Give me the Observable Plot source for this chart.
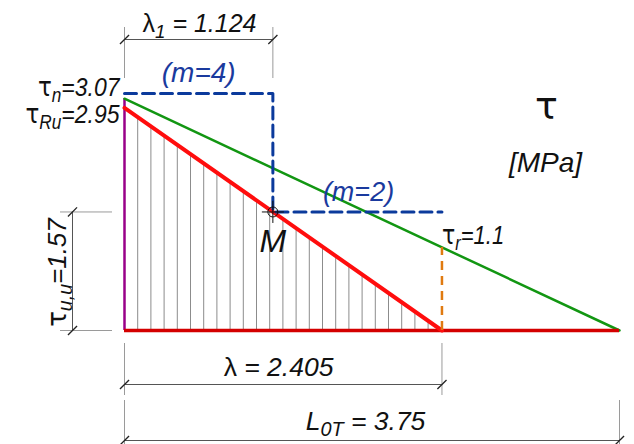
<!DOCTYPE html>
<html>
<head>
<meta charset="utf-8">
<script src="https://cdn.jsdelivr.net/npm/d3@7"></script>
<script src="https://cdn.jsdelivr.net/npm/@observablehq/plot@0.6"></script>
<style>
  html, body { margin: 0; padding: 0; background: #fff; }
  #chart svg { display: block; }
</style>
</head>
<body>
<div id="chart"></div>
<script>
// ---- values ----
const lambda1 = 1.124;   // λ1
const lambda = 2.405;    // λ
const L0T = 3.75;        // L0T
const tauN = 3.07;       // τn
const tauRu = 2.95;      // τRu
const tauUU = 1.57;      // τu,u
const tauR = 1.1;        // τr
const m4Level = 3.14;    // level of the (m=4) dashed step as drawn
const hatchStep = 0.1;   // spacing of the hatching lines

// polylines built from the values above
const redSlope = [[0, tauRu], [lambda, 0]];
const greenLine = [[0, tauN], [L0T, 0]];
const blueStep = [[0, m4Level], [lambda1, m4Level], [lambda1, tauUU], [lambda, tauUU]];
const hatchX = d3.range(hatchStep, lambda - 0.05, hatchStep);

// ---- layout helpers (pixel -> data units) ----
const W = 634, H = 444;
const X0 = 124, KX = 132;   // origin x px, px per unit
const Y0 = 330, KY = 75.5;  // baseline y px, px per unit
const xPx = p => (p - X0) / KX;
const yPx = p => (Y0 - p) / KY;

const FONT = "'Liberation Sans', Arial, sans-serif";
const GREEK = "'DejaVu Sans', sans-serif";
const DIM = "#555";
const EXT = "#9a9a9a";

const slash = {draw(ctx, size) { const s = Math.sqrt(size / Math.PI) * 0.7; ctx.moveTo(-s, s); ctx.lineTo(s, -s); }};
const plus = {draw(ctx, size) { const s = Math.sqrt(size / Math.PI); ctx.moveTo(-s, 0); ctx.lineTo(s, 0); ctx.moveTo(0, -s); ctx.lineTo(0, s); }};

// dimension lines
const dimTopY = yPx(39), dimLamY = yPx(384), dimLY = yPx(440), dimLeftX = xPx(72);
const hDims = [
  {y: dimTopY, x1: 0, x2: lambda1},
  {y: dimLamY, x1: 0, x2: lambda},
  {y: dimLY, x1: 0, x2: L0T}
];
const vExt = [
  {x: 0, y1: yPx(27), y2: yPx(78)},
  {x: lambda1, y1: yPx(27), y2: yPx(78)},
  {x: 0, y1: yPx(343), y2: yPx(395)},
  {x: lambda, y1: yPx(343), y2: yPx(395)},
  {x: 0, y1: yPx(400), y2: yPx(444)},
  {x: L0T, y1: yPx(400), y2: yPx(444)}
];
const hExt = [
  {y: 0, x1: xPx(60), x2: xPx(112)},
  {y: tauUU, x1: xPx(60), x2: xPx(112)}
];
const ticks = [
  [0, dimTopY], [lambda1, dimTopY],
  [0, dimLamY], [lambda, dimLamY],
  [0, dimLY], [L0T, dimLY],
  [dimLeftX, 0], [dimLeftX, tauUU]
];

const texts = [
  {t: "λ_{1} = 1.124", x: xPx(199), y: yPx(31), a: "middle", s: 25, c: "#111", i: true, sy: 1},
  {t: "(m=4)", x: lambda1 / 2, y: yPx(81), a: "middle", s: 28, c: "#1a3a9e", i: true, sy: 1},
  {t: "(m=2)", x: xPx(358), y: yPx(200), a: "middle", s: 27, c: "#1a3a9e", i: true, sy: 1},
  {t: "τ_{n}=3.07", x: xPx(119), y: yPx(95), a: "end", s: 23, c: "#111", i: true, sy: 1.15},
  {t: "τ_{Ru}=2.95", x: xPx(119), y: yPx(122), a: "end", s: 23, c: "#111", i: true, sy: 1.15},
  {t: "τ_{r}=1.1", x: lambda, y: yPx(243), a: "start", s: 22, c: "#111", i: true, sy: 1.2},
  {t: "M", x: lambda1, y: yPx(251), a: "middle", s: 32, c: "#111", i: true, sy: 1},
  {t: "λ = 2.405", x: xPx(278), y: yPx(375), a: "middle", s: 26.5, c: "#111", i: true, sy: 1},
  {t: "L_{0T} = 3.75", x: xPx(365), y: yPx(429), a: "middle", s: 26.5, c: "#111", i: true, sy: 1},
  {t: "[MPa]", x: xPx(545), y: yPx(171), a: "middle", s: 28, c: "#111", i: true, sy: 1},
  {t: "τ", x: xPx(546), y: yPx(118), a: "middle", s: 38, c: "#111", i: false, sy: 1, f: GREEK}
];
const rotLabel = {t: "τ_{u,u}=1.57", s: 26, sy: 1};
const scaleY = new Map(texts.map(d => [d.t, d.sy]));

const textMark = d => Plot.text([d], {
  x: "x", y: "y", text: "t", textAnchor: d.a, lineAnchor: "bottom",
  fontSize: d.s, fill: d.c, fontStyle: d.i ? "italic" : "normal", fontFamily: d.f || FONT
});

const plot = Plot.plot({
  width: W, height: H,
  marginTop: 0, marginRight: 0, marginBottom: 0, marginLeft: 0,
  x: {domain: [xPx(0), xPx(W)], range: [0, W], axis: null},
  y: {domain: [yPx(H), yPx(0)], range: [H, 0], axis: null},
  style: {background: "#fff", fontFamily: FONT},
  marks: [
    // hatching under the red line
    Plot.ruleX(hatchX, {x: d => d, y1: 0, y2: d => tauRu * (1 - d / lambda), stroke: "#8c8c8c", strokeWidth: 1}),
    // extension lines
    Plot.ruleX(vExt, {x: "x", y1: "y1", y2: "y2", stroke: EXT, strokeWidth: 1}),
    Plot.ruleY(hExt, {y: "y", x1: "x1", x2: "x2", stroke: EXT, strokeWidth: 1}),
    // dimension lines
    Plot.ruleY(hDims, {y: "y", x1: "x1", x2: "x2", stroke: DIM, strokeWidth: 1}),
    Plot.ruleX([dimLeftX], {x: d => d, y1: 0, y2: tauUU, stroke: DIM, strokeWidth: 1}),
    Plot.dot(ticks, {x: d => d[0], y: d => d[1], symbol: slash, r: 6.5, stroke: "#222", strokeWidth: 1.3, fill: "none"}),
    // diagram
    Plot.ruleX([0], {x: d => d, y1: 0, y2: tauN, stroke: "#990088", strokeWidth: 2.5}),
    Plot.line(greenLine, {stroke: "#129612", strokeWidth: 2.5}),
    Plot.ruleY([0], {y: d => d, x1: 0, x2: L0T, stroke: "#d40000", strokeWidth: 3.5}),
    Plot.line(redSlope, {stroke: "#ff0d0d", strokeWidth: 4}),
    Plot.ruleX([lambda], {x: d => d, y1: 0, y2: tauR, stroke: "#e07a10", strokeWidth: 2.5, strokeDasharray: "9,6"}),
    Plot.line(blueStep, {stroke: "#0b3a9c", strokeWidth: 3, strokeDasharray: "12,6"}),
    // point M
    Plot.dot([[lambda1, tauUU]], {x: d => d[0], y: d => d[1], r: 5, stroke: "#111", strokeWidth: 1, fill: "none"}),
    Plot.dot([[lambda1, tauUU]], {x: d => d[0], y: d => d[1], symbol: plus, r: 11, stroke: "#111", strokeWidth: 1, fill: "none"}),
    // labels
    ...texts.map(textMark),
    Plot.text([rotLabel], {
      x: xPx(65), y: yPx(272), text: "t", rotate: -90,
      textAnchor: "middle", lineAnchor: "bottom", fontSize: rotLabel.s, fill: "#111", fontStyle: "italic", fontFamily: FONT
    })
  ]
});

// subscripts (_{...}) and upright Greek letters, optional vertical stretch
const NS = "http://www.w3.org/2000/svg";
plot.querySelectorAll("text").forEach(t => {
  const s = t.textContent;
  const sy = scaleY.get(s);
  if (sy && sy !== 1) t.setAttribute("transform", (t.getAttribute("transform") || "") + ` scale(1,${sy})`);
  if (s.length < 2 || !/_\{|[τλ]/.test(s)) return;
  const parts = s.split(/(_\{[^}]*\}|[τλ])/).filter(p => p);
  t.textContent = "";
  let prevSub = false;
  for (const p of parts) {
    const ts = document.createElementNS(NS, "tspan");
    if (p.startsWith("_{")) {
      ts.textContent = p.slice(2, -1);
      ts.setAttribute("font-size", "75%");
      ts.setAttribute("dy", "0.33em");
      prevSub = true;
    } else {
      ts.textContent = p;
      if (prevSub) ts.setAttribute("dy", "-0.2475em");
      if (p === "τ" || p === "λ") ts.setAttribute("font-style", "normal");
      if (p === "τ") ts.setAttribute("font-family", GREEK);
      prevSub = false;
    }
    t.appendChild(ts);
  }
});

document.getElementById("chart").appendChild(plot);
</script>
</body>
</html>
